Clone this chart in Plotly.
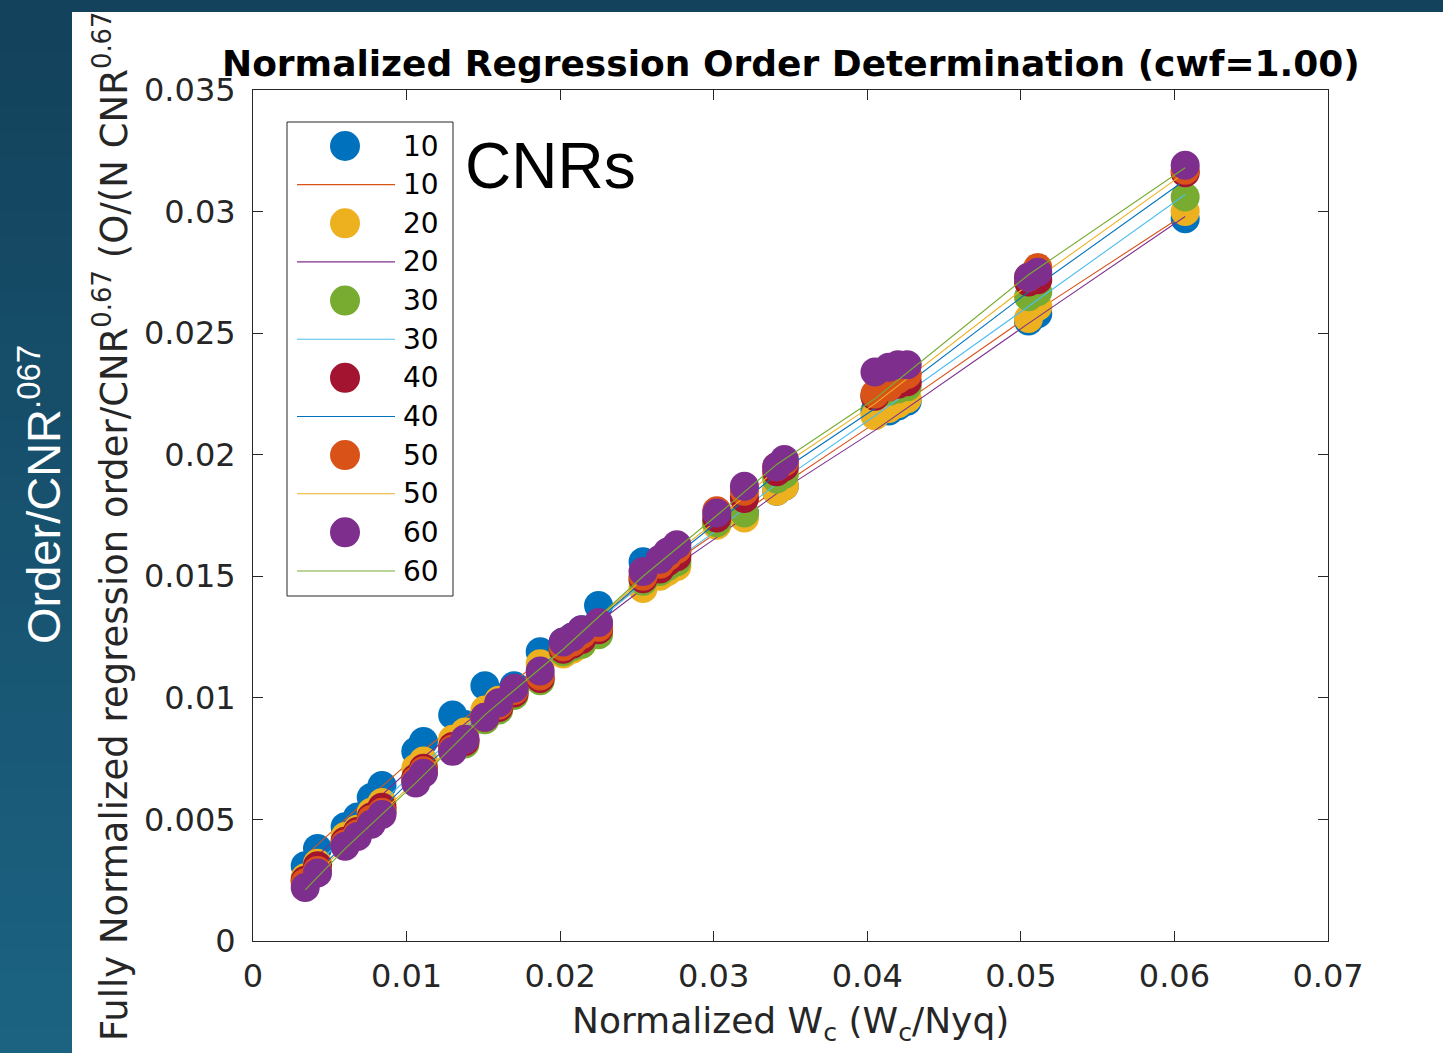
import plotly.graph_objects as go

# ---- data -----------------------------------------------------------------
CNRS = [10, 20, 30, 40, 50, 60]

# normalized cutoff frequency Wc/Nyq (shared by all CNR series)
WC = [0.0034, 0.0042, 0.0060, 0.0068, 0.0077, 0.0084, 0.0106, 0.0111, 0.0130,
      0.0138, 0.0151, 0.0160, 0.0170, 0.0187, 0.0202, 0.0208, 0.0214, 0.0225,
      0.0254, 0.0265, 0.0270, 0.0276, 0.0302, 0.0320, 0.0341, 0.0346, 0.0405,
      0.0414, 0.0420, 0.0426, 0.0505, 0.0511, 0.0607]

# fully normalized regression order per CNR
ORDER_CNR10 = [0.0031, 0.0038, 0.0047, 0.0051, 0.0059, 0.0064, 0.0078, 0.0082, 0.0093,
               0.0089, 0.0105, 0.0100, 0.0105, 0.0119, 0.0123, 0.0125, 0.0128, 0.0138,
               0.0156, 0.0156, 0.0158, 0.0160, 0.0172, 0.0176, 0.0185, 0.0187, 0.0218,
               0.0218, 0.0220, 0.0222, 0.0255, 0.0258, 0.0297]
ORDER_CNR20 = [0.0026, 0.0032, 0.0043, 0.0046, 0.0053, 0.0057, 0.0071, 0.0074, 0.0083,
               0.0086, 0.0095, 0.0099, 0.0103, 0.0114, 0.0118, 0.0120, 0.0122, 0.0129,
               0.0145, 0.0150, 0.0152, 0.0154, 0.0171, 0.0174, 0.0185, 0.0187, 0.0216,
               0.0219, 0.0221, 0.0223, 0.0256, 0.0261, 0.0300]
ORDER_CNR30 = [0.0025, 0.0030, 0.0041, 0.0045, 0.0050, 0.0054, 0.0067, 0.0070, 0.0079,
               0.0081, 0.0091, 0.0095, 0.0101, 0.0107, 0.0119, 0.0121, 0.0122, 0.0126,
               0.0148, 0.0152, 0.0154, 0.0156, 0.0172, 0.0176, 0.0190, 0.0192, 0.0224,
               0.0226, 0.0227, 0.0228, 0.0265, 0.0267, 0.0306]
ORDER_CNR40 = [0.0025, 0.0031, 0.0041, 0.0045, 0.0051, 0.0055, 0.0067, 0.0071, 0.0080,
               0.0082, 0.0092, 0.0096, 0.0102, 0.0108, 0.0120, 0.0122, 0.0124, 0.0128,
               0.0149, 0.0153, 0.0156, 0.0158, 0.0174, 0.0182, 0.0193, 0.0195, 0.0224,
               0.0228, 0.0229, 0.0230, 0.0271, 0.0272, 0.0316]
ORDER_CNR50 = [0.0024, 0.0029, 0.0040, 0.0044, 0.0050, 0.0053, 0.0066, 0.0070, 0.0079,
               0.0083, 0.0092, 0.0097, 0.0103, 0.0109, 0.0121, 0.0123, 0.0126, 0.0129,
               0.0150, 0.0155, 0.0158, 0.0161, 0.0177, 0.0185, 0.0195, 0.0197, 0.0225,
               0.0228, 0.0231, 0.0233, 0.0273, 0.0277, 0.0317]
ORDER_CNR60 = [0.0022, 0.0028, 0.0039, 0.0043, 0.0048, 0.0052, 0.0065, 0.0069, 0.0078,
               0.0083, 0.0092, 0.0098, 0.0104, 0.0111, 0.0123, 0.0125, 0.0128, 0.0131,
               0.0152, 0.0157, 0.0160, 0.0163, 0.0176, 0.0187, 0.0195, 0.0198, 0.0234,
               0.0236, 0.0237, 0.0237, 0.0273, 0.0275, 0.0319]

# fitted trend per CNR, evaluated at these Wc values
FIT_WC = [0.0034, 0.0060, 0.0106, 0.0151, 0.0202, 0.0254, 0.0302, 0.0341, 0.0405, 0.0505, 0.0607]
FIT_CNR10 = [0.0035, 0.0050, 0.0076, 0.0098, 0.0122, 0.0147, 0.0168, 0.0186, 0.0213, 0.0257, 0.0299]
FIT_CNR20 = [0.0030, 0.0046, 0.0073, 0.0096, 0.0120, 0.0145, 0.0166, 0.0184, 0.0210, 0.0254, 0.0298]
FIT_CNR30 = [0.0027, 0.0043, 0.0070, 0.0095, 0.0120, 0.0147, 0.0169, 0.0188, 0.0216, 0.0261, 0.0307]
FIT_CNR40 = [0.0024, 0.0040, 0.0068, 0.0094, 0.0120, 0.0148, 0.0172, 0.0192, 0.0219, 0.0267, 0.0313]
FIT_CNR50 = [0.0023, 0.0039, 0.0066, 0.0093, 0.0120, 0.0149, 0.0173, 0.0194, 0.0221, 0.0270, 0.0316]
FIT_CNR60 = [0.0021, 0.0038, 0.0065, 0.0093, 0.0120, 0.0150, 0.0175, 0.0196, 0.0223, 0.0274, 0.0318]

X_TICKS = [0, 0.01, 0.02, 0.03, 0.04, 0.05, 0.06, 0.07]
X_TICK_TEXT = ["0", "0.01", "0.02", "0.03", "0.04", "0.05", "0.06", "0.07"]
Y_TICKS = [0, 0.005, 0.01, 0.015, 0.02, 0.025, 0.03, 0.035]
Y_TICK_TEXT = ["0", "0.005", "0.01", "0.015", "0.02", "0.025", "0.03", "0.035"]

ORDERS = [ORDER_CNR10, ORDER_CNR20, ORDER_CNR30, ORDER_CNR40, ORDER_CNR50, ORDER_CNR60]
FITS = [FIT_CNR10, FIT_CNR20, FIT_CNR30, FIT_CNR40, FIT_CNR50, FIT_CNR60]

# MATLAB default colour order, cycled scatter / line / scatter / line ...
MATLAB = ["#0072BD", "#D95319", "#EDB120", "#7E2F8E", "#77AC30", "#4DBEEE", "#A2142F"]
MARKER_COLORS = [MATLAB[(2 * i) % 7] for i in range(6)]
LINE_COLORS = [MATLAB[(2 * i + 1) % 7] for i in range(6)]

# ---- page geometry (pixels) ------------------------------------------------
W, H = 1443, 1053
L, R, T, B = 253, 1328, 90, 941


def px(xp):
    return (xp - L) / (R - L)


def py(yp):
    return (B - yp) / (B - T)


AX = "#262626"

fig = go.Figure()
for cnr, ys, fit, mc, lc in zip(CNRS, ORDERS, FITS, MARKER_COLORS, LINE_COLORS):
    fig.add_trace(go.Scatter(x=WC, y=ys, mode="markers", name=str(cnr),
                             marker=dict(color=mc, size=29, line=dict(width=0)),
                             showlegend=False))
    fig.add_trace(go.Scatter(x=FIT_WC, y=fit, mode="lines", name=str(cnr),
                             line=dict(color=lc, width=1.1), showlegend=False))

shapes = []
# slide background: darker band with a soft vertical gradient on the left edge
n_strips = 40
for i in range(n_strips):
    t = i / (n_strips - 1)
    r = int(19 + (28 - 19) * t)
    g = int(66 + (99 - 66) * t)
    b = int(92 + (130 - 92) * t)
    y_top = H * i / n_strips
    y_bot = H * (i + 1) / n_strips + 1
    shapes.append(dict(type="rect", xref="paper", yref="paper", layer="below",
                       x0=px(0), x1=px(73), y0=py(y_bot), y1=py(y_top),
                       fillcolor=f"rgb({r},{g},{b})", line=dict(width=0)))
# white figure panel
shapes.append(dict(type="rect", xref="paper", yref="paper", layer="below",
                   x0=px(72), x1=px(W + 2), y0=py(H + 2), y1=py(12),
                   fillcolor="white", line=dict(width=0)))

# legend box
LEG_X0, LEG_X1, LEG_Y0, LEG_Y1 = 287, 453, 122, 596
shapes.append(dict(type="rect", xref="paper", yref="paper", layer="above",
                   x0=px(LEG_X0), x1=px(LEG_X1), y0=py(LEG_Y1), y1=py(LEG_Y0),
                   fillcolor="white", line=dict(color=AX, width=1)))

annotations = []
row_h = (571 - 146) / 11
entries = []
for cnr, mc, lc in zip(CNRS, MARKER_COLORS, LINE_COLORS):
    entries.append(("marker", mc, str(cnr)))
    entries.append(("line", lc, str(cnr)))
for k, (kind, col, label) in enumerate(entries):
    yc = 146 + k * row_h
    if kind == "marker":
        shapes.append(dict(type="circle", xref="paper", yref="paper", layer="above",
                           xsizemode="pixel", ysizemode="pixel",
                           xanchor=px(345), yanchor=py(yc),
                           x0=-15, x1=15, y0=-15, y1=15,
                           fillcolor=col, line=dict(width=0)))
    else:
        shapes.append(dict(type="line", xref="paper", yref="paper", layer="above",
                           x0=px(297), x1=px(395), y0=py(yc), y1=py(yc),
                           line=dict(color=col, width=1.1)))
    annotations.append(dict(text=label, x=px(441), y=py(yc), xref="paper", yref="paper",
                            xanchor="right", yanchor="middle", showarrow=False,
                            font=dict(family="DejaVu Sans", size=28, color="#000000")))

# y-axis title
annotations.append(dict(
    text="Fully Normalized regression order/CNR<sup>0.67</sup> (O/(N CNR<sup>0.67</sup>",
    x=px(111), y=py(526), xref="paper", yref="paper", textangle=-90,
    xanchor="center", yanchor="middle", showarrow=False,
    font=dict(family="DejaVu Sans", size=37, color=AX)))
# x-axis title
annotations.append(dict(
    text="Normalized W<sub>c</sub> (W<sub>c</sub>/Nyq)",
    x=px(790), y=py(1023), xref="paper", yref="paper",
    xanchor="center", yanchor="middle", showarrow=False,
    font=dict(family="DejaVu Sans", size=36, color=AX)))
# title
annotations.append(dict(
    text="<b>Normalized Regression Order Determination (cwf=1.00)</b>",
    x=px(791), y=py(63), xref="paper", yref="paper",
    xanchor="center", yanchor="middle", showarrow=False,
    font=dict(family="DejaVu Sans", size=36, color="#000000")))
# slide labels
annotations.append(dict(
    text="CNRs", x=px(463), y=py(166), xref="paper", yref="paper",
    xanchor="left", yanchor="middle", showarrow=False,
    font=dict(family="Liberation Sans, Arial", size=64, color="#000000")))
annotations.append(dict(
    text="Order/CNR<sup>.067</sup>", x=px(40), y=py(495), xref="paper", yref="paper",
    textangle=-90, xanchor="center", yanchor="middle", showarrow=False,
    font=dict(family="Liberation Sans, Arial", size=47, color="#ffffff")))

axis_common = dict(showline=True, linecolor=AX, linewidth=1, mirror="ticks",
                   ticks="inside", ticklen=10, tickwidth=1, tickcolor=AX,
                   showgrid=False, zeroline=False,
                   tickfont=dict(family="DejaVu Sans", size=32, color=AX))

fig.update_layout(
    width=W, height=H,
    margin=dict(l=L, r=W - R, t=T, b=H - B),
    paper_bgcolor="rgb(19,66,92)",
    plot_bgcolor="white",
    showlegend=False,
    xaxis=dict(range=[0, 0.07], tickvals=X_TICKS, ticktext=X_TICK_TEXT,
               ticklabelstandoff=7, **axis_common),
    yaxis=dict(range=[0, 0.035], tickvals=Y_TICKS, ticktext=Y_TICK_TEXT,
               ticklabelstandoff=10, **axis_common),
    shapes=shapes,
    annotations=annotations,
)

fig.write_html("out.html")
